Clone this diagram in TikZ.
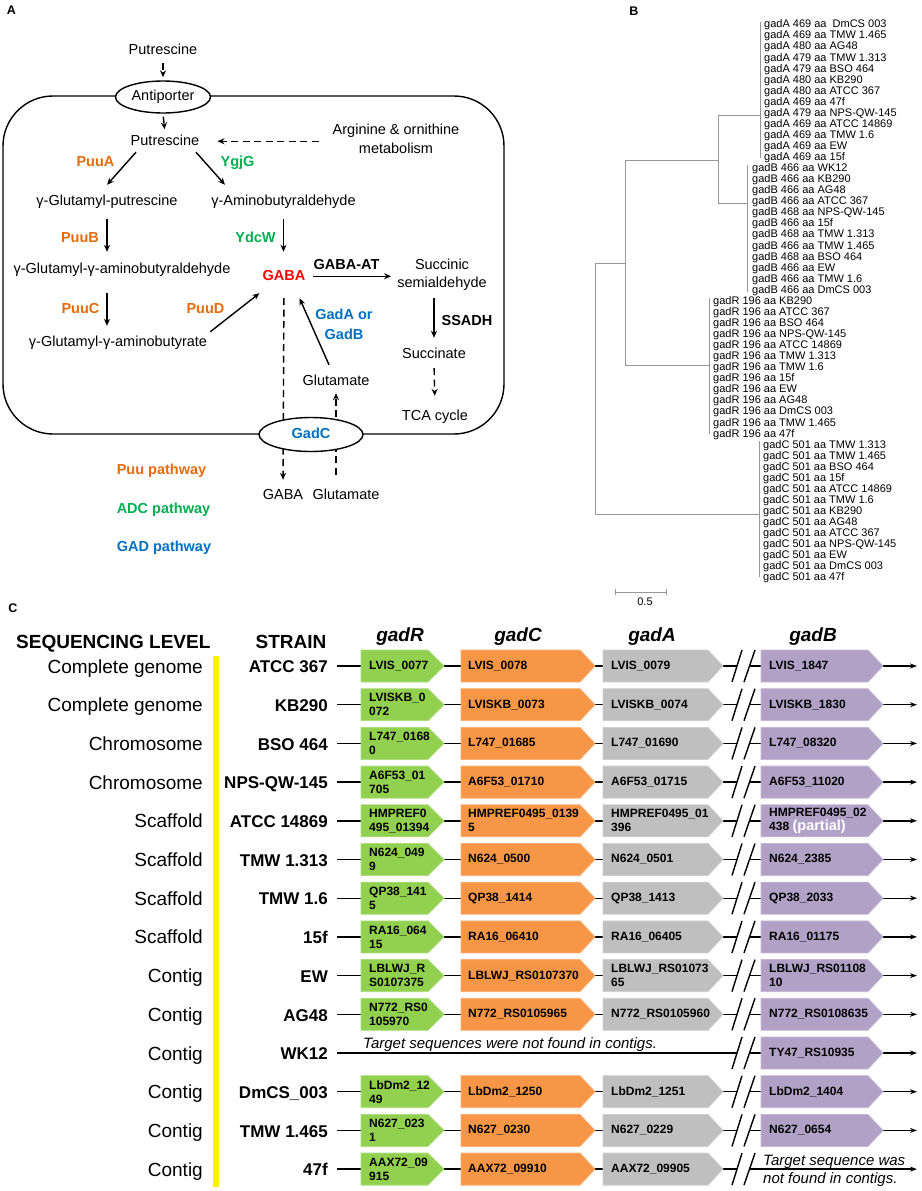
\documentclass[tikz,border=0pt]{standalone}
\usepackage{fontspec}
\setmainfont{Liberation Sans}
\usetikzlibrary{arrows.meta,shapes.geometric,backgrounds}

\definecolor{puuor}{RGB}{228,108,10}
\definecolor{adcgr}{RGB}{0,176,80}
\definecolor{gadbl}{RGB}{0,112,192}
\definecolor{gabared}{RGB}{255,0,0}
\definecolor{genegr}{RGB}{146,208,80}
\definecolor{geneor}{RGB}{247,150,70}
\definecolor{genegy}{RGB}{191,191,191}
\definecolor{genepu}{RGB}{178,161,199}
\definecolor{treegy}{RGB}{150,150,150}

\begin{document}
\begin{tikzpicture}[x=1pt, y=-1pt,
	lbl/.style={font=\fontsize{14.5}{19}\selectfont, inner sep=1pt, text height=10.5pt, text depth=3pt, anchor=base},
	lbl2/.style={font=\fontsize{14.5}{19}\selectfont, inner sep=1pt, align=center, anchor=base},
	enz/.style={lbl, font=\fontsize{14.5}{19}\selectfont\bfseries},
	arr/.style={line width=1.4pt, -{Stealth[length=7pt,width=6pt]}},
	darr/.style={arr, dash pattern=on 7pt off 4.5pt},
	memb/.style={ellipse, draw, line width=1.4pt, fill=white, inner sep=0pt, font=\fontsize{14.5}{17}\selectfont, text height=10.5pt, text depth=3pt},
	leaf/.style={font=\fontsize{11}{12}\selectfont, anchor=west, inner sep=0pt},
	branch/.style={draw=treegy, line width=0.8pt},
	lev/.style={font=\fontsize{19}{22}\selectfont, anchor=base east, inner sep=0pt},
	strain/.style={font=\fontsize{17}{20}\selectfont\bfseries, anchor=base east, inner sep=0pt},
	ghead/.style={font=\fontsize{19}{22}\selectfont\bfseries\itshape, anchor=base, inner sep=0pt},
	gtxt/.style={font=\fontsize{12}{14}\selectfont\bfseries, anchor=west, inner sep=0pt, align=left},
	note/.style={font=\fontsize{15}{18}\selectfont\itshape, anchor=base west, inner sep=0pt, align=left},
	bb/.style={line width=1.4pt},
	gR/.style={fill=genegr, draw=genegr!75!white, line width=0.8pt},
	gC/.style={fill=geneor, draw=geneor!75!white, line width=0.8pt},
	gA/.style={fill=genegy, draw=genegy!75!white, line width=0.8pt},
	gB/.style={fill=genepu, draw=genepu!75!white, line width=0.8pt},
	panel/.style={font=\fontsize{12.5}{14}\selectfont\bfseries, inner sep=0pt}]
	\useasboundingbox (0,0) rectangle (921,1191);
	
	% panel A
	\node[panel] (labA) at (11.5,10.5) {A};
	\node[lbl] (put1) at (163,54) {Putrescine};
	\node[memb, minimum width=95pt, minimum height=32pt] (anti) at (163,97) {Antiporter};
	\node[lbl] (put2) at (165,145) {Putrescine};
	\node[lbl2] (arg) at (396,153) {Arginine \& ornithine\\metabolism};
	\node[lbl] (gglu) at (107,205) {γ-Glutamyl-putrescine};
	\node[lbl] (gamb) at (283.5,205) {γ-Aminobutyraldehyde};
	\node[lbl] (ggab) at (122,273) {γ-Glutamyl-γ-aminobutyraldehyde};
	\node[enz, text=gabared] (gaba) at (284,280) {GABA};
	\node[lbl2, font=\fontsize{14.5}{18}\selectfont] (ssa) at (442,287) {Succinic\\semialdehyde};
	\node[lbl] (ggat) at (118,346) {γ-Glutamyl-γ-aminobutyrate};
	\node[lbl] (glu) at (336,385) {Glutamate};
	\node[lbl] (succ) at (434,358) {Succinate};
	\node[lbl] (tca) at (435,420) {TCA cycle};
	\node[memb, text=gadbl, font=\fontsize{14.5}{17}\selectfont\bfseries, minimum width=104pt, minimum height=34pt] (gadc) at (311,434.5) {GadC};
	\node[lbl] (gabaout) at (283,499) {GABA};
	\node[lbl] (gluout) at (346,499) {Glutamate};
	
	\node[enz, text=puuor] (puua) at (95.5,166) {PuuA};
	\node[enz, text=adcgr] (ygjg) at (237.5,166) {YgjG};
	\node[enz, text=puuor] (puub) at (80,242) {PuuB};
	\node[enz, text=adcgr] (ydcw) at (255.5,242) {YdcW};
	\node[enz] (gabaat) at (346.5,269) {GABA-AT};
	\node[enz, text=puuor] (puuc) at (80.5,313) {PuuC};
	\node[enz, text=puuor] (puud) at (205.5,313) {PuuD};
	\node[lbl2, text=gadbl, font=\fontsize{14.5}{20}\selectfont\bfseries] (gadab) at (344,339) {GadA or\\GadB};
	\node[enz] (ssadh) at (467,325) {SSADH};
	
	\node[enz, text=puuor] (lpuu) at (161.5,474) {Puu pathway};
	\node[enz, text=adcgr] (ladc) at (163.5,513) {ADC pathway};
	\node[enz, text=gadbl] (lgad) at (164,551) {GAD pathway};
	
	\begin{pgfonlayer}{background}
	\draw[line width=1.4pt, rounded corners=50pt] (3,96) rectangle (504,434);
	\draw[darr, shorten <=5pt, shorten >=3pt] (put1.south) -- (anti.north);
	\draw[darr, shorten <=14pt, shorten >=7.5pt] (gaba.south) -- (gabaout.north);
	\draw[darr, shorten <=12.5pt, shorten >=4pt] (gluout.north -| glu.south) -- (glu.south);
	\end{pgfonlayer}
	
	\draw[darr, shorten <=3pt, shorten >=4pt] (anti.south) -- (put2.north);
	\draw[darr, shorten <=13pt, shorten >=17pt] (arg.west |- put2.east) -- (put2.east);
	\draw[arr] ([xshift=-29pt,yshift=-3pt]put2.south) -- ([yshift=8.5pt]gglu.north);
	\draw[arr] ([xshift=31pt,yshift=-3pt]put2.south) -- ([xshift=-58.5pt,yshift=8.5pt]gamb.north);
	\draw[arr, shorten <=10pt, shorten >=9.5pt] (gglu.south) -- (gglu.south |- ggab.north);
	\draw[arr, shorten <=10pt, shorten >=16.5pt] (gamb.south) -- (gamb.south |- gaba.north);
	\draw[arr, shorten <=16pt, shorten >=8.5pt] (gglu.south |- ggab.south) -- (gglu.south |- ggat.north);
	\draw[arr] ([xshift=2pt,yshift=2.5pt]ggat.north east) -- ([xshift=-2pt,yshift=-9pt]gaba.south west);
	\draw[arr, shorten <=6pt, shorten >=5pt] (gaba.east) -- (gaba.east -| ssa.west);
	\draw[arr, shorten <=7pt, shorten >=8.5pt] (ssa.south -| succ.north) -- (succ.north);
	\draw[darr, shorten <=6pt, shorten >=12.5pt] (succ.south) -- (tca.north);
	\draw[arr] ([xshift=-7pt,yshift=8.5pt]glu.north) -- ([xshift=-7pt,yshift=-14pt]gaba.south east);
	
	% panel B
	\node[panel] (labB) at (634,11) {B};
	\draw[branch] (625,263) -| (595,514) -- (759,514);
	\draw[branch] (718,160) -| (625,365) -- (709,365);
	\draw[branch] (760,115) -| (718,203) -- (747,203);
	\draw[branch] (760,22) -- (760,158);
	\draw[branch] (747,165) -- (747,292);
	\draw[branch] (709,298) -- (709,434);
	\draw[branch] (759,441) -- (759,577);
	\foreach \t [count=\i from 0] in {469 aa\ \ DmCS 003, 469 aa TMW 1.465, 480 aa AG48, 479 aa TMW 1.313, 479 aa BSO 464, 480 aa KB290, 480 aa ATCC 367, 469 aa 47f, 479 aa NPS-QW-145, 469 aa ATCC 14869, 469 aa TMW 1.6, 469 aa EW, 469 aa 15f}
		\node[leaf] (lA\i) at (764,25+\i*11.06) {gadA \t};
	\foreach \t [count=\i from 13] in {466 aa WK12, 466 aa KB290, 466 aa AG48, 466 aa ATCC 367, 468 aa NPS-QW-145, 466 aa 15f, 468 aa TMW 1.313, 466 aa TMW 1.465, 468 aa BSO 464, 466 aa EW, 466 aa TMW 1.6, 466 aa DmCS 003}
		\node[leaf] (lB\i) at (752,25+\i*11.06) {gadB \t};
	\foreach \t [count=\i from 25] in {KB290, ATCC 367, BSO 464, NPS-QW-145, ATCC 14869, TMW 1.313, TMW 1.6, 15f, EW, AG48, DmCS 003, TMW 1.465, 47f}
		\node[leaf] (lR\i) at (713,25+\i*11.06) {gadR 196 aa \t};
	\foreach \t [count=\i from 38] in {TMW 1.313, TMW 1.465, BSO 464, 15f, ATCC 14869, TMW 1.6, KB290, AG48, ATCC 367, NPS-QW-145, EW, DmCS 003, 47f}
		\node[leaf] (lC\i) at (763,25+\i*11.06) {gadC 501 aa \t};
	\draw[branch] (615,589) -- (615,595) (615,592) -- (666,592) (666,589) -- (666,595);
	\node[leaf, anchor=center] (scale) at (645,601.5) {0.5};
	
	% panel C
	\node[panel] (labC) at (13,608) {C};
	\node[font=\fontsize{19}{22}\selectfont\bfseries, anchor=base west, inner sep=0pt] (hlev) at (16,648) {SEQUENCING LEVEL};
	\node[font=\fontsize{19}{22}\selectfont\bfseries, anchor=base, inner sep=0pt] (hstr) at (291,648) {STRAIN};
	\node[ghead] (hR) at (400,641) {gadR};
	\node[ghead] (hC) at (518,641) {gadC};
	\node[ghead] (hA) at (652,641) {gadA};
	\node[ghead] (hB) at (813,641) {gadB};
	\fill[yellow] (213,656) rectangle (219,1187);
	
	\foreach \i/\lev/\str in {1/Complete genome/ATCC 367, 2/Complete genome/KB290, 3/Chromosome/BSO 464, 4/Chromosome/NPS-QW-145, 5/Scaffold/ATCC 14869, 6/Scaffold/TMW 1.313, 7/Scaffold/TMW 1.6, 8/Scaffold/15f, 9/Contig/EW, 10/Contig/AG48, 11/Contig/WK12, 12/Contig/DmCS\_003, 13/Contig/TMW 1.465, 14/Contig/47f}{
		\pgfmathsetmacro{\yc}{666+(\i-1)*38.7}
		\node[lev] (lev\i) at (203,\yc+7) {\lev};
		\node[strain] (str\i) at (328,\yc+6.7) {\str};
		\coordinate (sa\i) at (737,\yc);
		\coordinate (sb\i) at (749.5,\yc);
		\coordinate (end\i) at (917,\yc);
		\draw[bb, shorten <=9pt] (str\i.east |- sa\i) -- (sa\i);
		\draw[bb, -{Stealth[length=7pt,width=5pt]}] (sb\i) -- (end\i);
		\draw[bb] (732,\yc+16) -- (742,\yc-16) (744,\yc+16) -- (755,\yc-16);
	}
	
	\foreach \i/\r/\c/\a in {1/{LVIS\_0077}/{LVIS\_0078}/{LVIS\_0079},
		2/{LVISKB\_0\\072}/{LVISKB\_0073}/{LVISKB\_0074},
		3/{L747\_0168\\0}/{L747\_01685}/{L747\_01690},
		4/{A6F53\_01\\705}/{A6F53\_01710}/{A6F53\_01715},
		5/{HMPREF0\\495\_01394}/{HMPREF0495\_0139\\5}/{HMPREF0495\_01\\396},
		6/{N624\_049\\9}/{N624\_0500}/{N624\_0501},
		7/{QP38\_141\\5}/{QP38\_1414}/{QP38\_1413},
		8/{RA16\_064\\15}/{RA16\_06410}/{RA16\_06405},
		9/{LBLWJ\_R\\S0107375}/{LBLWJ\_RS0107370}/{LBLWJ\_RS01073\\65},
		10/{N772\_RS0\\105970}/{N772\_RS0105965}/{N772\_RS0105960},
		12/{LbDm2\_12\\49}/{LbDm2\_1250}/{LbDm2\_1251},
		13/{N627\_023\\1}/{N627\_0230}/{N627\_0229},
		14/{AAX72\_09\\915}/{AAX72\_09910}/{AAX72\_09905}}{
		\pgfmathsetmacro{\yc}{666+(\i-1)*38.7}
		\filldraw[gR] (361,\yc-16) -- (428,\yc-16) -- (444,\yc) -- (428,\yc+16) -- (361,\yc+16) -- cycle;
		\filldraw[gC] (461,\yc-16) -- (580,\yc-16) -- (595,\yc) -- (580,\yc+16) -- (461,\yc+16) -- cycle;
		\filldraw[gA] (603,\yc-16) -- (708,\yc-16) -- (723,\yc) -- (708,\yc+16) -- (603,\yc+16) -- cycle;
		\node[gtxt] (r\i) at (369,\yc) {\r};
		\node[gtxt] (c\i) at (468,\yc) {\c};
		\node[gtxt] (a\i) at (611,\yc) {\a};
	}
	
	\foreach \i/\b in {1/{LVIS\_1847}, 2/{LVISKB\_1830}, 3/{L747\_08320}, 4/{A6F53\_11020},
		5/{HMPREF0495\_02\\438 {\fontsize{14.5}{14}\selectfont\color{white}(partial)}},
		6/{N624\_2385}, 7/{QP38\_2033}, 8/{RA16\_01175}, 9/{LBLWJ\_RS01108\\10},
		10/{N772\_RS0108635}, 11/{TY47\_RS10935}, 12/{LbDm2\_1404}, 13/{N627\_0654}}{
		\pgfmathsetmacro{\yc}{666+(\i-1)*38.7}
		\filldraw[gB] (761,\yc-16) -- (868,\yc-16) -- (883,\yc) -- (868,\yc+16) -- (761,\yc+16) -- cycle;
		\node[gtxt] (b\i) at (769,\yc) {\b};
	}
	
	\node[note] (nf11) at (363,1048) {Target sequences were not found in contigs.};
	\node[note] (nf14) at (763,1183) {Target sequence was\\not found in contigs.};
\end{tikzpicture}
\end{document}
